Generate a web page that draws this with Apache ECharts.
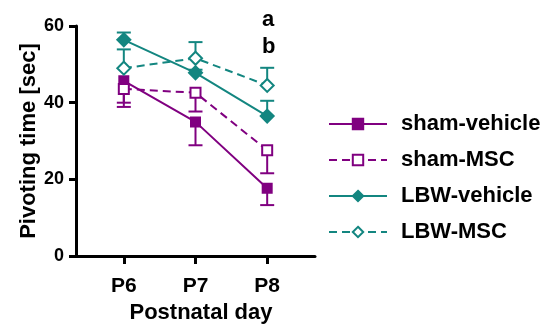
<!DOCTYPE html>
<html>
<head>
<meta charset="utf-8">
<script src="https://cdn.jsdelivr.net/npm/echarts@6/dist/echarts.min.js"></script>
<style>html,body{margin:0;padding:0;background:#fff}#c{width:544px;height:329px}</style>
</head>
<body>
<div id="c"></div>
<script>
// ---- data ----
const categories = ['P6', 'P7', 'P8'];
const yTicks = [0, 20, 40, 60];
const seriesNames = ['sham-vehicle', 'sham-MSC', 'LBW-vehicle', 'LBW-MSC'];
const shamVehicle = [45.7, 35.0, 17.7];
const shamVehicleErr = [6.8, 6.1, 4.4];   // drawn downward
const shamMSC = [43.6, 42.6, 27.6];
const shamMSCErr = [3.6, 4.9, 6.0];       // drawn downward
const lbwVehicle = [56.4, 47.8, 36.5];
const lbwVehicleErr = [1.9, 0.8, 4.0];    // drawn upward
const lbwMSC = [49.0, 51.6, 44.5];
const lbwMSCErr = [4.9, 4.2, 4.6];        // drawn upward
const annotations = ['a', 'b'];

const PURPLE = '#800080';
const TEAL = '#138680';
const FONT = 'Liberation Sans, Arial, sans-serif';

function pts(arr) { return arr.map((v, i) => [i, v]); }
function errPts(mean, err, dir) { return mean.map((v, i) => [i, v, v + dir * err[i]]); }

function errRenderer(color) {
  return function (params, api) {
    const x = api.value(0), a = api.value(1), b = api.value(2);
    const p1 = api.coord([x, a]);
    const p2 = api.coord([x, b]);
    const w = 7;
    return {
      type: 'group',
      children: [
        { type: 'line', shape: { x1: p1[0], y1: p1[1], x2: p2[0], y2: p2[1] }, style: { stroke: color, lineWidth: 2 } },
        { type: 'line', shape: { x1: p2[0] - w, y1: p2[1], x2: p2[0] + w, y2: p2[1] }, style: { stroke: color, lineWidth: 2 } }
      ]
    };
  };
}

const chart = echarts.init(document.getElementById('c'), null, { renderer: 'canvas' });

const lineSeries = [
  { name: seriesNames[0], data: pts(shamVehicle), color: PURPLE, symbol: 'rect', size: 9, fill: PURPLE, dash: 'solid' },
  { name: seriesNames[1], data: pts(shamMSC), color: PURPLE, symbol: 'rect', size: 10, fill: '#fff', dash: [8, 5] },
  { name: seriesNames[2], data: pts(lbwVehicle), color: TEAL, symbol: 'diamond', size: 13, fill: TEAL, dash: 'solid' },
  { name: seriesNames[3], data: pts(lbwMSC), color: TEAL, symbol: 'diamond', size: 13, fill: '#fff', dash: [8, 5] }
].map(s => ({
  type: 'line', name: s.name, data: s.data, z: 3,
  symbol: s.symbol, symbolSize: s.size, showAllSymbol: true,
  lineStyle: { color: s.color, width: 2, type: s.dash },
  itemStyle: { color: s.fill, borderColor: s.color, borderWidth: 2 },
  emphasis: { disabled: true }, animation: false
}));

const errSeries = [
  { data: errPts(shamVehicle, shamVehicleErr, -1), color: PURPLE },
  { data: errPts(shamMSC, shamMSCErr, -1), color: PURPLE },
  { data: errPts(lbwVehicle, lbwVehicleErr, 1), color: TEAL },
  { data: errPts(lbwMSC, lbwMSCErr, 1), color: TEAL }
].map(s => ({
  type: 'custom', data: s.data, renderItem: errRenderer(s.color), z: 2, silent: true, animation: false,
  encode: { x: 0, y: [1, 2] }
}));

chart.setOption({
  animation: false,
  backgroundColor: '#fff',
  grid: { left: 76, right: 229, top: 26, bottom: 66, containLabel: false },
  xAxis: {
    type: 'value', min: -0.667, max: 2.667,
    splitLine: { show: false },
    axisLine: { show: true, onZero: false, lineStyle: { color: '#000', width: 3 } },
    axisTick: { show: true, customValues: [0, 1, 2], length: 8, lineStyle: { color: '#000', width: 3 } },
    axisLabel: { customValues: [0, 1, 2], formatter: v => categories[Math.round(v)], margin: 20,
      fontFamily: FONT, fontWeight: 'bold', fontSize: 21, color: '#000' },
    name: 'Postnatal day', nameLocation: 'middle', nameGap: 42,
    nameTextStyle: { fontFamily: FONT, fontWeight: 'bold', fontSize: 22, color: '#000', padding: [0, 0, 0, 11] }
  },
  yAxis: {
    type: 'value', min: yTicks[0], max: yTicks[yTicks.length - 1], interval: 20,
    splitLine: { show: false },
    axisLine: { show: true, onZero: false, lineStyle: { color: '#000', width: 3 } },
    axisTick: { show: true, length: 7, lineStyle: { color: '#000', width: 3 } },
    axisLabel: { margin: 12, fontFamily: FONT, fontWeight: 'bold', fontSize: 18, color: '#000' },
    name: 'Pivoting time [sec]', nameLocation: 'middle', nameGap: 35,
    nameTextStyle: { fontFamily: FONT, fontWeight: 'bold', fontSize: 22, color: '#000' }
  },
  legend: {
    data: seriesNames, orient: 'vertical', left: 328, top: 113, padding: 0,
    itemWidth: 58, itemHeight: 13, itemGap: 14,
    textStyle: { fontFamily: FONT, fontWeight: 'bold', fontSize: 22, color: '#000', lineHeight: 22, padding: [0, 0, 0, 9] },
    selectedMode: false
  },
  graphic: [
    { type: 'text', left: 262, top: 9, style: { text: annotations[0], font: 'bold 22px ' + FONT, fill: '#000' } },
    { type: 'text', left: 262, top: 36, style: { text: annotations[1], font: 'bold 22px ' + FONT, fill: '#000' } }
  ],
  series: [...errSeries, ...lineSeries]
});
</script>
</body>
</html>
